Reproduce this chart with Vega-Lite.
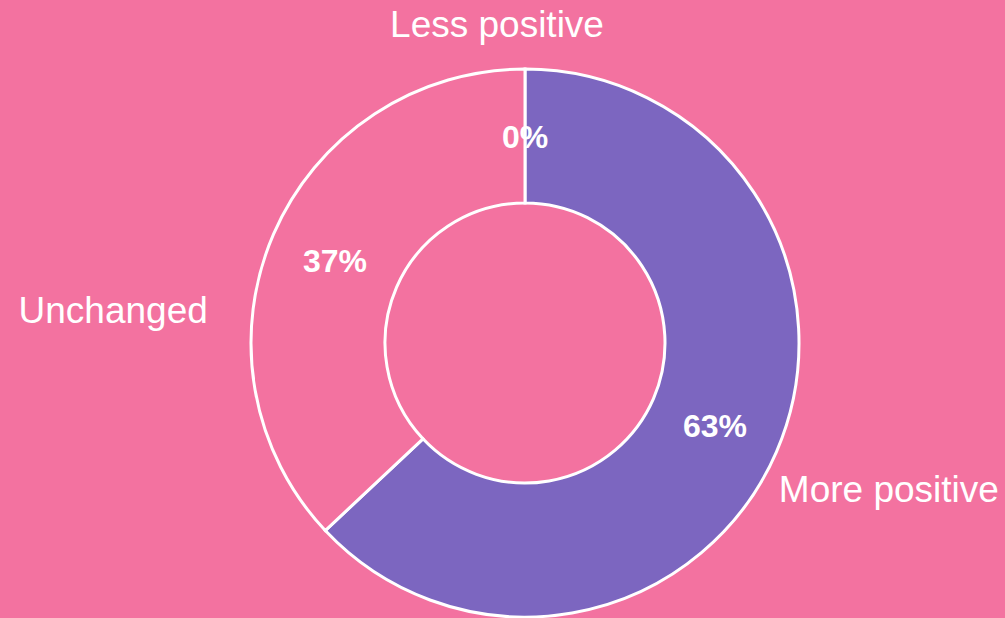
{
  "$schema": "https://vega.github.io/schema/vega-lite/v6.json",
  "width": 1005,
  "height": 618,
  "padding": 0,
  "autosize": {"type": "fit", "contains": "padding"},
  "background": "#F372A0",
  "view": {"stroke": null},
  "data": {
    "values": [
      {"label": "Less positive", "share": 0.0, "rank": 1},
      {"label": "More positive", "share": 0.63, "rank": 2},
      {"label": "Unchanged", "share": 0.37, "rank": 3}
    ]
  },
  "encoding": {
    "theta": {"field": "share", "type": "quantitative", "stack": true},
    "order": {"field": "rank", "type": "quantitative"}
  },
  "layer": [
    {
      "mark": {"type": "arc", "x": 525, "y": 343, "innerRadius": 140, "outerRadius": 274, "stroke": "white", "strokeWidth": 3},
      "encoding": {
        "color": {
          "field": "label",
          "type": "nominal",
          "scale": {"domain": ["Less positive", "More positive", "Unchanged"], "range": ["#F372A0", "#7C66C0", "#F372A0"]},
          "legend": null
        }
      }
    },
    {
      "mark": {"type": "text", "x": 525, "y": 343, "radius": 207, "font": "Liberation Sans", "fontSize": 32, "fontWeight": "bold", "fill": "white", "align": "center", "baseline": "alphabetic", "dy": 11.5},
      "encoding": {
        "text": {"field": "share", "type": "quantitative", "format": ".0%"}
      }
    },
    {
      "mark": {"type": "text", "x": 525, "y": 343, "radius": 318, "font": "Liberation Sans", "fontSize": 37, "fill": "white", "align": "center", "baseline": "alphabetic", "dx": -28, "dy": 12},
      "encoding": {
        "text": {"condition": {"test": "datum.label === 'Less positive'", "field": "label"}, "value": ""}
      }
    },
    {
      "mark": {"type": "text", "x": 525, "y": 343, "radius": 318, "font": "Liberation Sans", "fontSize": 37, "fill": "white", "align": "center", "baseline": "alphabetic", "dx": -120, "dy": 106},
      "encoding": {
        "text": {"condition": {"test": "datum.label === 'Unchanged'", "field": "label"}, "value": ""}
      }
    },
    {
      "mark": {"type": "text", "x": 525, "y": 343, "radius": 318, "font": "Liberation Sans", "fontSize": 37, "fill": "white", "align": "center", "baseline": "alphabetic", "dx": 72, "dy": 33},
      "encoding": {
        "text": {"condition": {"test": "datum.label === 'More positive'", "field": "label"}, "value": ""}
      }
    }
  ]
}
